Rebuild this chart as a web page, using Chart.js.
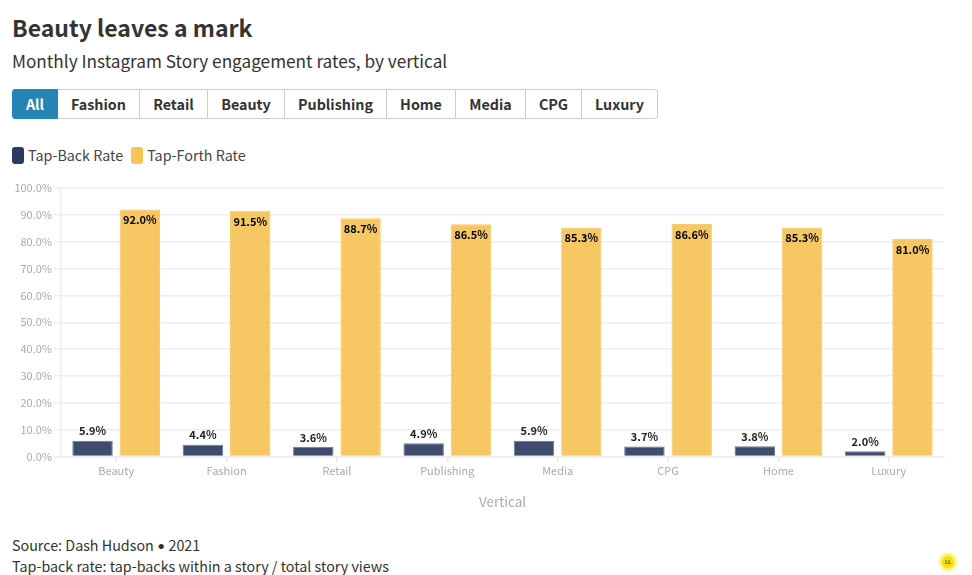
<!DOCTYPE html>
<html>
<head>
<meta charset="utf-8">
<script src="https://cdn.jsdelivr.net/npm/chart.js@4"></script>
<style>
  * { box-sizing: border-box; }
  html, body { margin: 0; background: #fff; width: 972px; height: 575px; overflow: hidden; }
  body { font-family: "Noto Sans CJK SC", "Noto Sans", sans-serif; color: #333; position: relative; }
  .title { position: absolute; left: 12px; top: 9px; font-size: 23px; line-height: 36px; font-weight: 700; }
  .subtitle { position: absolute; left: 12px; top: 47px; font-size: 17.2px; line-height: 27px; }
  .controls { position: absolute; left: 12px; top: 89px; display: flex; height: 30px; }
  .controls div { height: 30px; line-height: 28px; font-size: 14.3px; font-weight: 700; text-align: center; border: 1px solid #ccc; border-left: 0; }
  .controls div:first-child { background: #2484b4; color: #fff; border: 1px solid #2484b4; border-radius: 3px 0 0 3px; }
  .controls div:last-child { border-radius: 0 3px 3px 0; }
  .legend { position: absolute; left: 12px; top: 145px; display: flex; font-size: 14.3px; line-height: 20px; color: #444; }
  .legend span { display: flex; align-items: center; margin-right: 8px; }
  .legend i { width: 12px; height: 17px; border-radius: 3px; margin-right: 4px; }
  #wrap { position: absolute; left: 0; top: 175px; width: 972px; height: 340px; }
  .footer { position: absolute; left: 12px; top: 535px; font-size: 14.3px; line-height: 20px; color: #333; }
  .footer b { font-family: Lato, sans-serif; font-weight: 400; }
  .badge { position: absolute; left: 942px; top: 556px; width: 12px; height: 12px; border-radius: 50%; background: #f4e100; box-shadow: 0 0 3px 3px #fbef6a; font-size: 5px; line-height: 12px; font-weight: 700; text-align: center; color: #444; }
</style>
</head>
<body>
<div class="title">Beauty leaves a mark</div>
<div class="subtitle">Monthly Instagram Story engagement rates, by vertical</div>
<div class="controls" id="controls"></div>
<div class="legend" id="legend"></div>
<div id="wrap"><canvas id="chart" width="972" height="340"></canvas></div>
<div class="footer">Source: Dash Hudson <b>•</b> 2021<br>Tap-back rate: tap-backs within a story / total story views</div>
<div class="badge">LL</div>
<script>
const categories = ['Beauty', 'Fashion', 'Retail', 'Publishing', 'Media', 'CPG', 'Home', 'Luxury'];
const tapBack = [5.9, 4.4, 3.6, 4.9, 5.9, 3.7, 3.8, 2.0];
const tapForth = [92.0, 91.5, 88.7, 86.5, 85.3, 86.6, 85.3, 81.0];
const filters = ['All', 'Fashion', 'Retail', 'Beauty', 'Publishing', 'Home', 'Media', 'CPG', 'Luxury'];
const filterWidths = [46, 82, 68, 77, 102, 69, 70, 56, 76];

const FONT = '"Noto Sans CJK SC", "Noto Sans", sans-serif';

document.getElementById('controls').innerHTML = filters
  .map((f, i) => `<div style="width:${filterWidths[i]}px">${f}</div>`).join('');

// Value labels: above the dark bars, inside the top of the yellow ones
const valueLabels = {
  id: 'valueLabels',
  afterDatasetsDraw(chart) {
    const ctx = chart.ctx;
    ctx.save();
    ctx.font = '700 11px ' + FONT;
    ctx.textAlign = 'center';
    ctx.textBaseline = 'middle';
    chart.data.datasets.forEach((ds, d) => {
      chart.getDatasetMeta(d).data.forEach((bar, i) => {
        const label = ds.data[i].toFixed(1) + '%';
        if (d === 0) {
          ctx.fillStyle = '#222';
          ctx.fillText(label, bar.x, bar.y - 9.5);
        } else {
          ctx.fillStyle = '#000';
          ctx.fillText(label, bar.x, bar.y + 10.5);
        }
      });
    });
    ctx.restore();
  }
};

const chart = new Chart(document.getElementById('chart'), {
  type: 'bar',
  data: {
    labels: categories,
    datasets: [
      { label: 'Tap-Back Rate', data: tapBack, backgroundColor: 'rgba(36,51,89,0.88)', borderColor: 'rgba(110,122,152,1)', borderWidth: 1 },
      { label: 'Tap-Forth Rate', data: tapForth, backgroundColor: 'rgba(246,189,72,0.85)', borderColor: 'rgba(249,203,110,1)', borderWidth: 1 }
    ]
  },
  options: {
    responsive: false,
    animation: false,
    categoryPercentage: 0.857,
    barPercentage: 0.855,
    layout: { padding: { top: 13, right: 28, bottom: 0, left: 0 } },
    plugins: { legend: { display: false }, tooltip: { enabled: false } },
    scales: {
      x: {
        grid: { drawOnChartArea: false, offset: false, color: '#e8e8e8', tickLength: 6, lineWidth: 1.5 },
        border: { color: '#eee', width: 1.5 },
        ticks: { color: '#aaa', font: { family: FONT, size: 11 }, padding: 2, maxRotation: 0, autoSkip: false },
        title: { display: true, text: 'Vertical', color: '#aaa', font: { family: FONT, size: 13.5 }, padding: { top: 8, bottom: 5 } },
        afterFit(scale) { scale.height = 58.5; }
      },
      y: {
        min: 0,
        max: 100,
        grid: { color: '#eee', lineWidth: 1.5, tickLength: 7 },
        border: { color: '#eee', width: 1.5 },
        ticks: { stepSize: 10, color: '#aaa', font: { family: FONT, size: 11 }, padding: 2, callback: v => v.toFixed(1) + '%' },
        afterFit(scale) { scale.width = 61; }
      }
    }
  },
  plugins: [valueLabels]
});

document.getElementById('legend').innerHTML = chart.data.datasets.map((ds, i) =>
  `<span><i style="background:${['#2a3a61', '#f8c455'][i]}"></i>${ds.label}</span>`).join('');
</script>
</body>
</html>
